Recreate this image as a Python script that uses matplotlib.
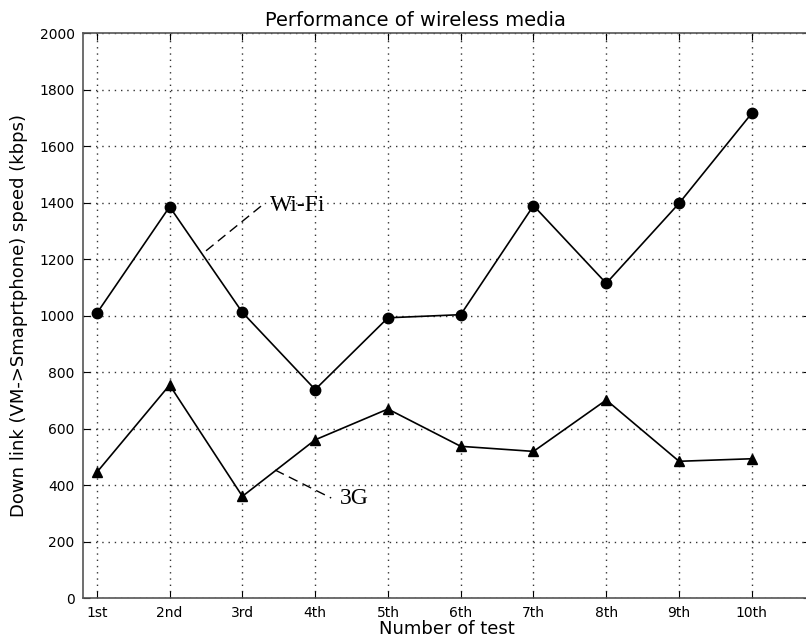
import matplotlib
matplotlib.use("Agg")
import matplotlib.pyplot as plt

# data
tests = ["1st", "2nd", "3rd", "4th", "5th", "6th", "7th", "8th", "9th", "10th"]
test_no = [1, 2, 3, 4, 5, 6, 7, 8, 9, 10]
wifi = [1008, 1385, 1011, 738, 992, 1003, 1389, 1114, 1397, 1716]
g3 = [445, 754, 360, 560, 669, 537, 519, 701, 484, 493]

fig = plt.figure(figsize=(8.06, 6.4), dpi=100)
ax = fig.add_axes([0.103, 0.0656, 0.902, 0.8828])

ax.plot(test_no, wifi, color="black", lw=1.2, marker="o", ms=7.5)
ax.plot(test_no, g3, color="black", lw=1.2, marker="^", ms=7.5)

ax.set_xlim(0.81, 10.8)
ax.set_ylim(0, 2000)
ax.set_xticks(test_no)
ax.set_xticklabels(tests)
ax.set_yticks(range(0, 2001, 200))
ax.tick_params(direction="in", top=True, right=True, labelsize=10, pad=6, length=5)
ax.grid(True, color="#333333", linestyle=(0, (1, 3.5)), linewidth=1.0)
for s in ax.spines.values():
    s.set_color("#555555")
    s.set_linewidth(1.2)

ax.set_title("Performance of wireless media", fontsize=14, pad=5, x=0.457)
ax.set_xlabel("Number of test", fontsize=13, labelpad=0)
ax.set_ylabel("Down link (VM->Smaprtphone) speed (kbps)", fontsize=13, labelpad=8)

# line labels with dashed leaders
ax.plot([2.5, 3.26], [1229, 1388], color="black", lw=1.0, linestyle=(0, (7, 4)))
ax.text(3.38, 1388, "Wi-Fi", family="Liberation Serif", fontsize=17, va="center", ha="left")
ax.plot([3.45, 4.22], [453, 354], color="black", lw=1.0, linestyle=(0, (7, 4)))
ax.text(4.34, 354, "3G", family="Liberation Serif", fontsize=17, va="center", ha="left")

fig.savefig("out.png", dpi=100)
